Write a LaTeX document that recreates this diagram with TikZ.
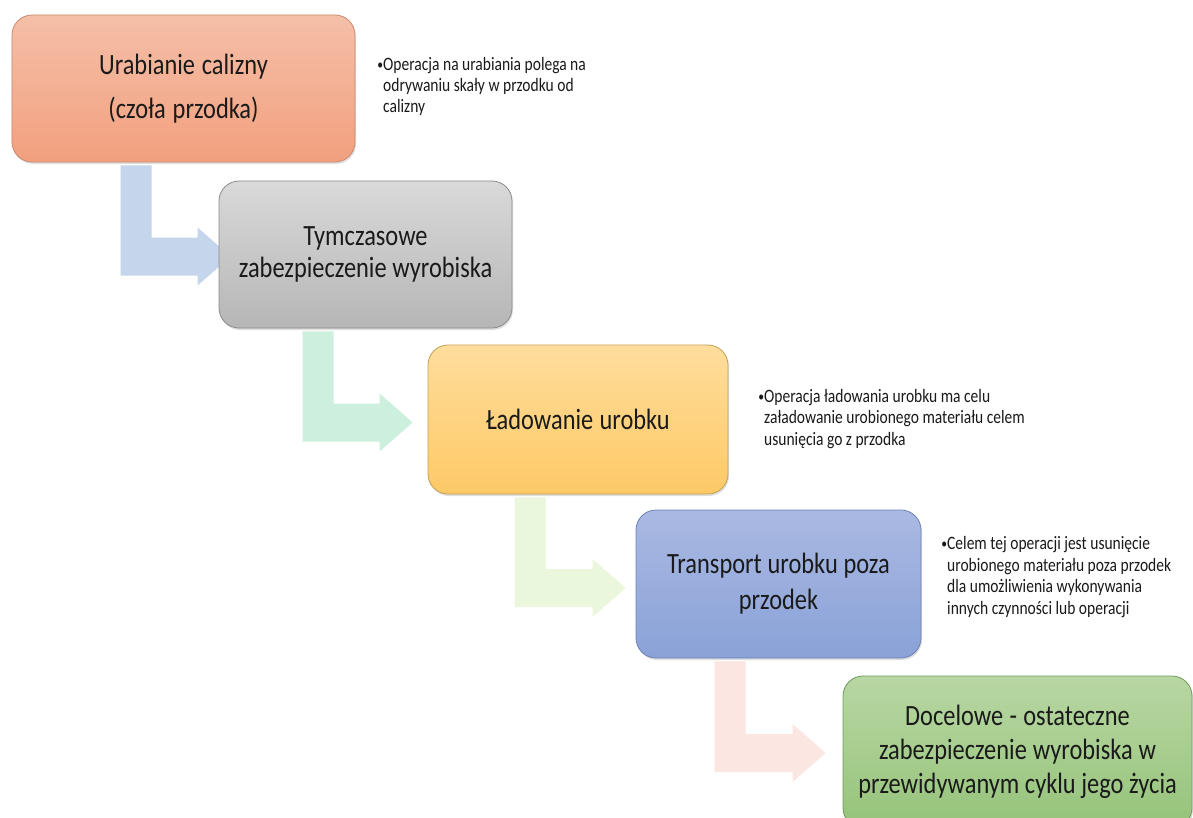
\documentclass[tikz,border=0pt]{standalone}
\usepackage{fontspec}
\setmainfont{Carlito}
\newfontfamily\stagefont[FakeStretch=0.83]{Carlito}
\newfontfamily\notefont[FakeStretch=0.82]{Carlito}
\usetikzlibrary{calc,shadows,backgrounds}

% stage boxes
\definecolor{orangeT}{HTML}{F5BFA8}\definecolor{orangeB}{HTML}{F2A07E}\definecolor{orangeD}{HTML}{C98A70}
\definecolor{grayT}{HTML}{D9D9D9}\definecolor{grayB}{HTML}{B6B6B6}\definecolor{grayD}{HTML}{8C8C8C}
\definecolor{goldT}{HTML}{FFDD9C}\definecolor{goldB}{HTML}{FDC966}\definecolor{goldD}{HTML}{C4A055}
\definecolor{blueT}{HTML}{AAB9E2}\definecolor{blueB}{HTML}{8AA2D8}\definecolor{blueD}{HTML}{6D82B8}
\definecolor{greenT}{HTML}{B8D7A3}\definecolor{greenB}{HTML}{95C37A}\definecolor{greenD}{HTML}{6F9A5A}
% bent arrows
\definecolor{arrA}{HTML}{C5D5EC}
\definecolor{arrB}{HTML}{CDEFDD}
\definecolor{arrC}{HTML}{EBF7DC}
\definecolor{arrD}{HTML}{FCE6E2}
\definecolor{ink}{HTML}{1A1A1A}

\tikzset{
  stage/.style n args={5}{
    rounded corners=20bp, top color=#1, bottom color=#2, draw=#3, line width=0.8bp,
    minimum width=#4, minimum height=#5, inner sep=0pt,
    text width=#4-16bp, align=center, text=ink,
    font=\stagefont\fontsize{29.5}{32}\selectfont,
    execute at begin node={\spaceskip=5.4bp plus 1bp minus 1bp\relax},
    drop shadow={shadow xshift=1bp, shadow yshift=-2bp, opacity=0.25}},
  note/.style={anchor=west, align=left, inner sep=0pt, text=ink,
    font=\notefont\fontsize{19}{21.5}\selectfont},
}

% small bullet for the side notes
\newcommand\notebullet{\llap{\raisebox{0.1ex}{\scalebox{0.75}{•}}}}

% L-shaped arrow: colour, source, bar offset, target, tip offset
\newcommand\bentarrow[5]{%
  \fill[#1] ($(#2.south west)+(#3,3)$) coordinate (a) -- ++(31,0)
    |- ($(#4.west)+(#5)+(-33,-19)$) -- ++(0,-10) -- ($(#4.west)+(#5)$)
    -- ++(-33,29) -- ++(0,-10) -| (a) -- cycle;}

\begin{document}
\begin{tikzpicture}[x=1bp,y=-1bp]
\useasboundingbox (0,0) rectangle (1193,818);

\node[stage={orangeT}{orangeB}{orangeD}{343bp}{147bp}] (b1) at (183.5,88.5)
  {Urabianie calizny\\[12bp](czoła przodka)};
\node[stage={grayT}{grayB}{grayD}{293bp}{147bp}] (b2) at (365.5,254.5)
  {Tymczasowe\\zabezpieczenie wyrobiska};
\node[stage={goldT}{goldB}{goldD}{300bp}{149bp}] (b3) at (578,419.5)
  {Ładowanie urobku};
\node[stage={blueT}{blueB}{blueD}{285bp}{148bp}] (b4) at (778.5,584)
  {Transport urobku poza\\[4bp]przodek};
\node[stage={greenT}{greenB}{greenD}{349bp}{152bp}] (b5) at (1017.5,752)
  {Docelowe - ostateczne\\[2bp]zabezpieczenie wyrobiska w\\[2bp]przewidywanym cyklu jego życia};

\begin{scope}[on background layer]
  \fill[white] (0,0) rectangle (1193,818);
  \bentarrow{arrA}{b1}{109}{b2}{12,2}
  \bentarrow{arrB}{b2}{84}{b3}{-15,3}
  \bentarrow{arrC}{b3}{87}{b4}{-10,4}
  \bentarrow{arrD}{b4}{79}{b5}{-17,1}
\end{scope}

\node[note] (n1) at (383,86.5)
  {\notebullet Operacja na urabiania polega na\\odrywaniu skały w przodku od\\calizny};
\node[note] (n2) at (764,419)
  {\notebullet Operacja ładowania urobku ma celu\\załadowanie urobionego materiału celem\\usunięcia go z przodka};
\node[note] (n3) at (947,577)
  {\notebullet Celem tej operacji jest usunięcie\\urobionego materiału poza przodek\\dla umożliwienia wykonywania\\innych czynności lub operacji};
\end{tikzpicture}
\end{document}
